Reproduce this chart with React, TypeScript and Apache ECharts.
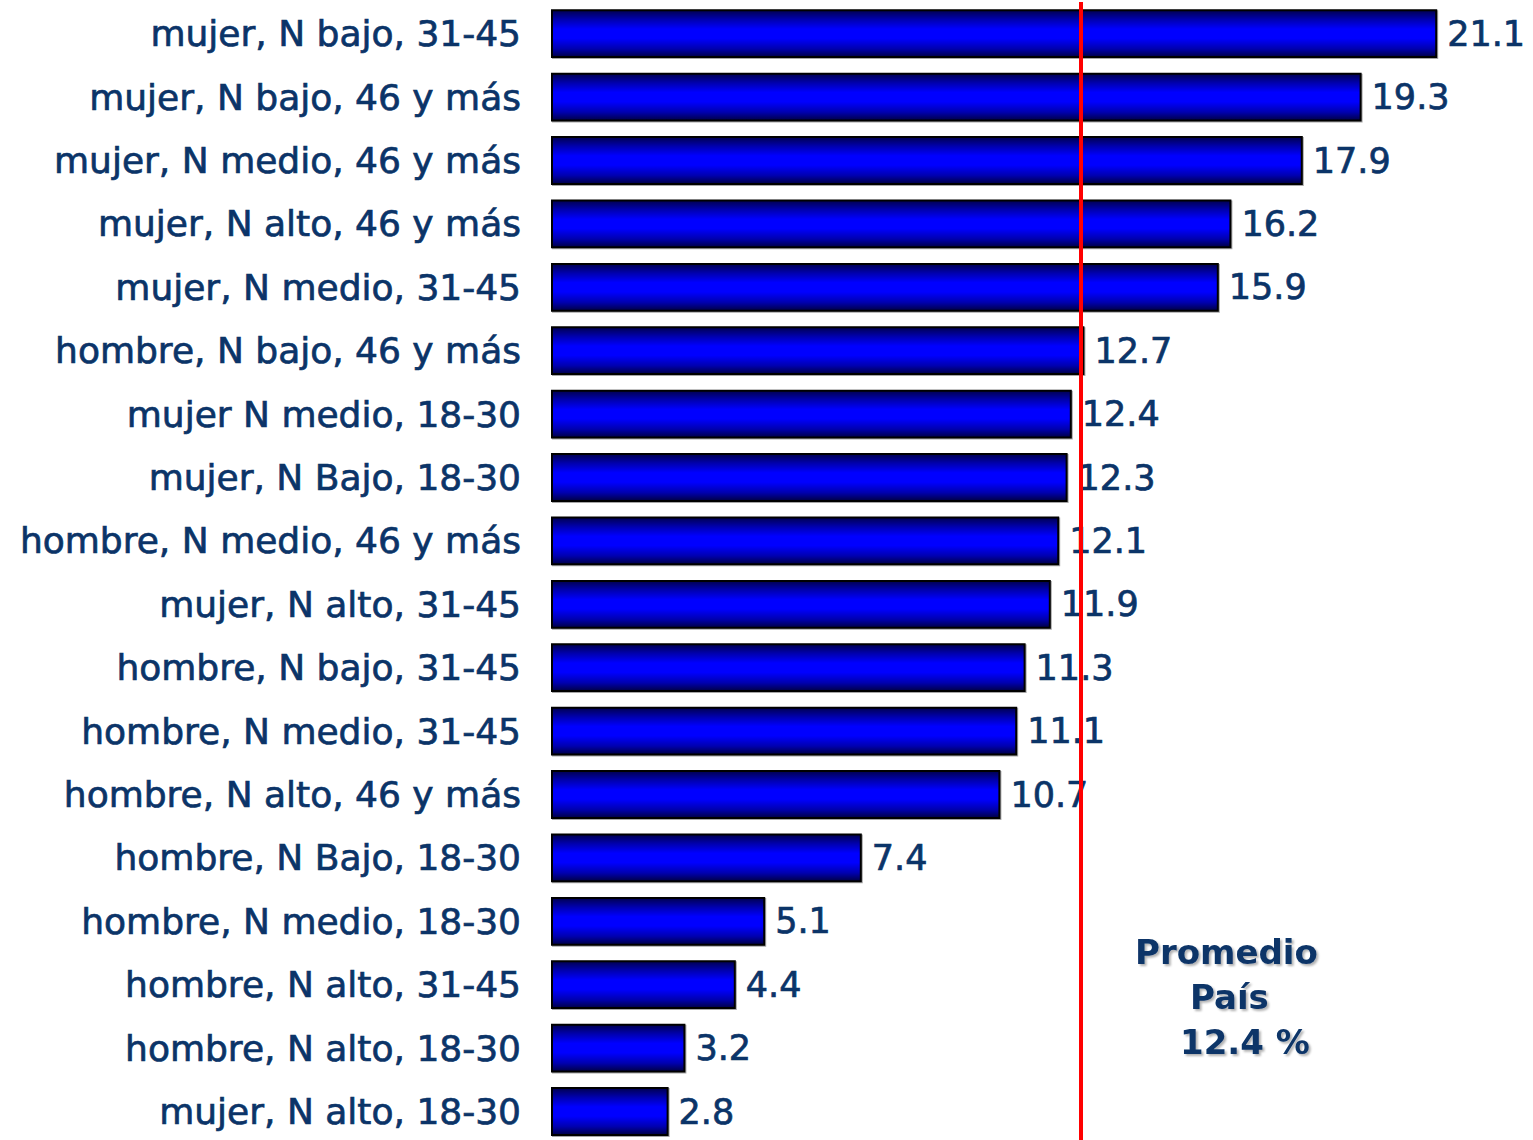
import React, { useEffect, useRef } from "react";
import * as echarts from "echarts";

const categories = [
  "mujer, N bajo, 31-45",
  "mujer, N bajo, 46 y más",
  "mujer, N medio, 46 y más",
  "mujer, N alto, 46 y más",
  "mujer, N medio, 31-45",
  "hombre, N bajo, 46 y más",
  "mujer N medio, 18-30",
  "mujer, N Bajo, 18-30",
  "hombre, N medio, 46 y más",
  "mujer, N alto, 31-45",
  "hombre, N bajo, 31-45",
  "hombre, N medio, 31-45",
  "hombre, N alto, 46 y más",
  "hombre, N Bajo, 18-30",
  "hombre, N medio, 18-30",
  "hombre, N alto, 31-45",
  "hombre, N alto, 18-30",
  "mujer, N alto, 18-30",
];

const values = [21.1, 19.3, 17.9, 16.2, 15.9, 12.7, 12.4, 12.3, 12.1, 11.9, 11.3, 11.1, 10.7, 7.4, 5.1, 4.4, 3.2, 2.8];

// position of the red average line as drawn in the picture
const averageLinePosition = [12.62];
const averageTextLines = ["Promedio", "País", "12.4 %"];

const TEXT_COLOR = "#0b3468";
const FONT = "'DejaVu Sans', Verdana, sans-serif";

export default function App() {
  const ref = useRef<HTMLDivElement>(null);

  useEffect(() => {
    document.body.style.margin = "0";
    const chart = echarts.init(ref.current!, undefined, { renderer: "svg" });
    const barColor = new echarts.graphic.LinearGradient(0, 0, 0, 1, [
      { offset: 0, color: "#000050" },
      { offset: 0.2, color: "#0000b0" },
      { offset: 0.4, color: "#0000ff" },
      { offset: 0.6, color: "#0000ff" },
      { offset: 0.82, color: "#0000b0" },
      { offset: 1, color: "#000045" },
    ]);
    chart.setOption({
      animation: false,
      backgroundColor: "#ffffff",
      grid: { left: 551, top: 2, width: 23 * 42, height: 18 * 63.4 },
      xAxis: {
        type: "value",
        min: 0,
        max: 23,
        show: false,
      },
      yAxis: {
        type: "category",
        data: categories,
        inverse: true,
        axisLine: { show: false },
        axisTick: { show: false },
        splitLine: { show: false },
        axisLabel: {
          margin: 30,
          color: TEXT_COLOR,
          fontSize: 36,
          fontFamily: FONT,
          textBorderColor: TEXT_COLOR,
          textBorderWidth: 0.7,
        },
      },
      series: [
        {
          type: "bar",
          data: values,
          barCategoryGap: "23%",
          itemStyle: {
            color: barColor,
            borderColor: "#000000",
            borderWidth: 2,
            shadowColor: "rgba(0,0,0,0.35)",
            shadowOffsetX: 1,
            shadowOffsetY: 1,
            shadowBlur: 1,
          },
          label: {
            show: true,
            position: "right",
            distance: 10,
            color: TEXT_COLOR,
            fontSize: 35,
            fontFamily: FONT,
            textBorderColor: TEXT_COLOR,
            textBorderWidth: 0.7,
            formatter: (p: any) => Number(p.value).toFixed(1),
          },
          markLine: {
            silent: true,
            symbol: "none",
            label: { show: false },
            lineStyle: { color: "#ff0000", width: 4, type: "solid" },
            data: averageLinePosition.map((v) => ({ xAxis: v })),
          },
          z: 2,
        },
      ],
      graphic: averageTextLines.map((t, i) => ({
        type: "text",
        left: [1135, 1190, 1180][i],
        top: 935 + i * 45,
        style: {
          text: t,
          fill: TEXT_COLOR,
          font: `bold 34px ${FONT}`,
          textShadowColor: "rgba(0,0,0,0.3)",
          textShadowOffsetX: 2,
          textShadowOffsetY: 2,
          textShadowBlur: 2,
        },
      })),
    });
    return () => chart.dispose();
  }, []);

  return (
    <div style={{ width: 1533, height: 1140, overflow: "hidden", position: "relative" }}>
      <div ref={ref} style={{ width: 1533, height: 1160 }} />
    </div>
  );
}
